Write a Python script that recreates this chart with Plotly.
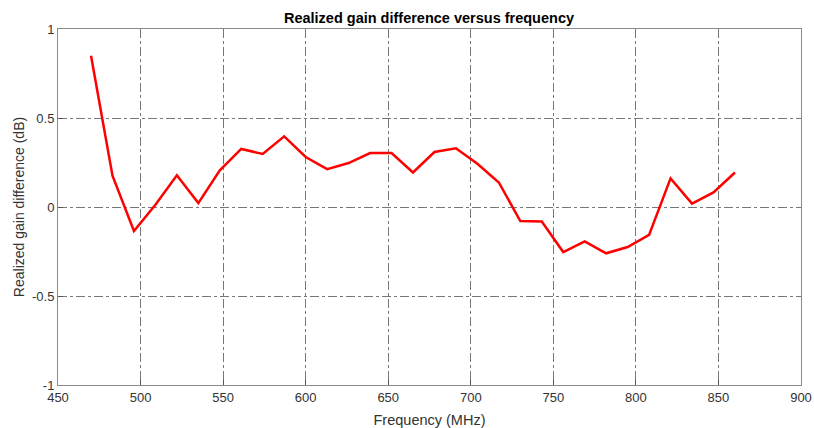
import plotly.graph_objects as go

freq_mhz = [470, 483, 496, 509, 522, 535, 548, 561, 574, 587, 600, 613, 626, 639, 652,
            665, 678, 691, 704, 717, 730, 743, 756, 769, 782, 795, 808, 821, 834, 847, 860]
gain_diff_db = [0.85, 0.176, -0.135, 0.013, 0.178, 0.022, 0.206, 0.326, 0.298, 0.397,
                0.281, 0.213, 0.247, 0.303, 0.303, 0.194, 0.309, 0.33, 0.243, 0.138,
                -0.079, -0.081, -0.253, -0.193, -0.26, -0.225, -0.157, 0.161, 0.019,
                0.082, 0.194]
x_ticks = [450, 500, 550, 600, 650, 700, 750, 800, 850, 900]
y_ticks = [-1, -0.5, 0, 0.5, 1]
y_tick_text = ["-1", "-0.5", "0", "0.5", "1"]

fig = go.Figure()
fig.add_trace(go.Scatter(x=freq_mhz, y=gain_diff_db, mode="lines",
                         line=dict(color="#ff0000", width=2.5), showlegend=False))

axis_common = dict(showline=True, linecolor="#8a8a8a", linewidth=1, mirror=True,
                   ticks="inside", ticklen=5, tickcolor="#555555",
                   showgrid=True, gridcolor="rgba(60,60,60,0.7)", griddash="dashdot",
                   gridwidth=1, zeroline=False, automargin=False,
                   tickfont=dict(family="Liberation Sans, Arial", size=13, color="#333333"))

fig.update_layout(
    width=814, height=428,
    margin=dict(l=58, r=13, t=29, b=43),
    paper_bgcolor="white", plot_bgcolor="white",
    title=dict(text="<b>Realized gain difference versus frequency</b>", x=0.527, xanchor="center",
               y=0.958, yanchor="middle",
               font=dict(family="Liberation Sans, Arial", size=14.5, color="#000000")),
    xaxis=dict(range=[450, 900], tickvals=x_ticks,
               title=dict(text="Frequency (MHz)", standoff=12,
                          font=dict(family="Liberation Sans, Arial", size=14.5, color="#333333")),
               **axis_common),
    yaxis=dict(range=[-1, 1], tickvals=y_ticks, ticktext=y_tick_text,
               title=dict(text="Realized gain difference (dB)", standoff=4,
                          font=dict(family="Liberation Sans, Arial", size=14, color="#333333")),
               **axis_common),
)

fig.write_html("out.html")
